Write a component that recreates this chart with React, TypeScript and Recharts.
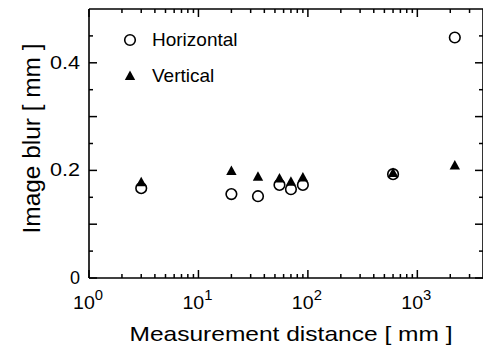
import { ScatterChart, Scatter, XAxis, YAxis, Legend, Label } from "recharts";

const distances = [3, 20, 35, 55, 70, 90, 600, 2200];
const horizontalBlur = [0.167, 0.156, 0.152, 0.173, 0.165, 0.173, 0.193, 0.447];
const verticalBlur = [0.178, 0.199, 0.188, 0.185, 0.179, 0.187, 0.195, 0.209];

const xTicks = [
  1, 2, 3, 4, 5, 6, 7, 8, 9,
  10, 20, 30, 40, 50, 60, 70, 80, 90,
  100, 200, 300, 400, 500, 600, 700, 800, 900,
  1000, 2000, 3000,
];
const yTicks = [0, 0.05, 0.1, 0.15, 0.2, 0.25, 0.3, 0.35, 0.4, 0.45];

const FONT = "'Liberation Sans', Arial, Helvetica, sans-serif";
const INK = "#000";

const hData = distances.map((x, i) => ({ x, y: horizontalBlur[i] }));
const vData = distances.map((x, i) => ({ x, y: verticalBlur[i] }));

const isDecade = (v: number) => {
  const e = Math.log10(v);
  return Math.abs(e - Math.round(e)) < 1e-6;
};

function BottomTick({ x, y, payload }: any) {
  const v = payload.value;
  const major = isDecade(v);
  return (
    <g>
      <line x1={x} y1={y} x2={x} y2={y - (major ? 8 : 4)} stroke={INK} strokeWidth={1.5} />
      {major && (
        <text
          x={x - 1}
          y={y + 31}
          textAnchor="middle"
          fontSize={18.5}
          fontFamily={FONT}
          fill={INK}
          textLength={30}
          lengthAdjust="spacingAndGlyphs"
        >
          <tspan>10</tspan>
          <tspan dy={-9} fontSize={14}>{Math.round(Math.log10(v))}</tspan>
        </text>
      )}
    </g>
  );
}

function TopTick({ x, y, payload }: any) {
  const major = isDecade(payload.value);
  return <line x1={x} y1={y} x2={x} y2={y + (major ? 8 : 4)} stroke={INK} strokeWidth={1.5} />;
}

function LeftTick({ x, y, payload }: any) {
  const v = payload.value;
  const idx = Math.round(v * 20);
  const major = idx % 2 === 0;
  const labelled = idx % 4 === 0;
  const text = v === 0 ? "0" : v.toFixed(1);
  return (
    <g>
      <line x1={x} y1={y} x2={x + (major ? 8 : 4)} y2={y} stroke={INK} strokeWidth={1.5} />
      {labelled && (
        <text
          x={x - 9}
          y={y}
          textAnchor="end"
          dominantBaseline="central"
          fontSize={18}
          fontFamily={FONT}
          fill={INK}
          {...(text.length > 1 ? { textLength: 30, lengthAdjust: "spacingAndGlyphs" } : {})}
        >
          {text}
        </text>
      )}
    </g>
  );
}

function RightTick({ x, y, payload }: any) {
  const idx = Math.round(payload.value * 20);
  const major = idx % 2 === 0;
  return <line x1={x} y1={y} x2={x - (major ? 8 : 4)} y2={y} stroke={INK} strokeWidth={1.5} />;
}

function OpenCircle({ cx, cy }: any) {
  return <circle cx={cx} cy={cy} r={5.3} fill="none" stroke={INK} strokeWidth={1.6} />;
}

function FilledTriangle({ cx, cy }: any) {
  return (
    <polygon
      points={`${cx},${cy - 5.5} ${cx - 5.2},${cy + 4} ${cx + 5.2},${cy + 4}`}
      fill={INK}
    />
  );
}

function XTitle({ viewBox }: any) {
  const cx = viewBox.x + viewBox.width / 2 + 5;
  return (
    <text
      x={cx}
      y={viewBox.y + 63}
      textAnchor="middle"
      fontSize={21}
      fontFamily={FONT}
      fill={INK}
      textLength={323}
      lengthAdjust="spacingAndGlyphs"
    >
      Measurement distance [ mm ]
    </text>
  );
}

function YTitle({ viewBox }: any) {
  const cy = viewBox.y + viewBox.height / 2 - 5;
  return (
    <text
      x={40}
      y={cy}
      transform={`rotate(-90, 40, ${cy})`}
      textAnchor="middle"
      fontSize={23}
      fontFamily={FONT}
      fill={INK}
      textLength={190}
      lengthAdjust="spacingAndGlyphs"
    >
      Image blur [ mm ]
    </text>
  );
}

function LegendBox({ payload }: any) {
  return (
    <div style={{ fontFamily: FONT, fontSize: 19, color: INK }}>
      {(payload || []).map((entry: any) => (
        <div key={entry.value} style={{ display: "flex", alignItems: "center", height: 36 }}>
          <svg width={16} height={16}>
            {entry.value === "Horizontal" ? (
              <circle cx={8} cy={8} r={5.3} fill="none" stroke={INK} strokeWidth={1.6} />
            ) : (
              <polygon points="8,2.5 2.8,12 13.2,12" fill={INK} />
            )}
          </svg>
          <span style={{ marginLeft: 14 }}>{entry.value}</span>
        </div>
      ))}
    </div>
  );
}

export default function App() {
  return (
    <div style={{ position: "absolute", left: 0, top: 0, width: 483, height: 346, background: "#fff" }}>
      <ScatterChart width={483} height={346} margin={{ top: 8, right: -1, bottom: 0, left: 0 }}>
        <XAxis
          dataKey="x"
          type="number"
          scale="log"
          domain={[1, 3981]}
          allowDataOverflow
          ticks={xTicks}
          interval={0}
          height={68}
          tickSize={0}
          tickMargin={0}
          tickLine={false}
          tick={(p: any) => <BottomTick {...p} />}
          axisLine={{ stroke: INK, strokeWidth: 1.6 }}
        >
          <Label content={XTitle} />
        </XAxis>
        <XAxis
          xAxisId="top"
          orientation="top"
          dataKey="x"
          type="number"
          scale="log"
          domain={[1, 3981]}
          allowDataOverflow
          ticks={xTicks}
          interval={0}
          height={1}
          tickSize={0}
          tickMargin={0}
          tickLine={false}
          tick={(p: any) => <TopTick {...p} />}
          axisLine={{ stroke: INK, strokeWidth: 1.6 }}
        />
        <YAxis
          dataKey="y"
          type="number"
          domain={[0, 0.5]}
          allowDataOverflow
          ticks={yTicks}
          interval={0}
          width={89}
          tickSize={0}
          tickMargin={0}
          tickLine={false}
          tick={(p: any) => <LeftTick {...p} />}
          axisLine={{ stroke: INK, strokeWidth: 1.6 }}
        >
          <Label content={YTitle} />
        </YAxis>
        <YAxis
          yAxisId="right"
          orientation="right"
          dataKey="y"
          type="number"
          domain={[0, 0.5]}
          allowDataOverflow
          ticks={yTicks}
          interval={0}
          width={1}
          tickSize={0}
          tickMargin={0}
          tickLine={false}
          tick={(p: any) => <RightTick {...p} />}
          axisLine={{ stroke: INK, strokeWidth: 1.6 }}
        />
        <Legend
          layout="vertical"
          align="center"
          verticalAlign="middle"
          content={LegendBox}
          wrapperStyle={{ left: 122, top: 22, width: "auto", height: "auto" }}
        />
        <Scatter name="Horizontal" data={hData} shape={OpenCircle} isAnimationActive={false} />
        <Scatter
          name="Vertical"
          data={vData}
          xAxisId="top"
          yAxisId="right"
          shape={FilledTriangle}
          isAnimationActive={false}
        />
      </ScatterChart>
    </div>
  );
}
